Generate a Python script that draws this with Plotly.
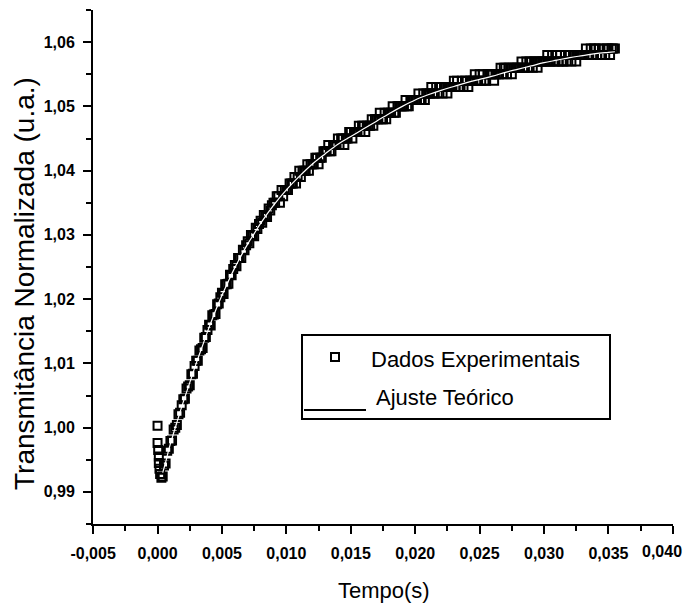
import plotly.graph_objects as go

# ---------------- data ----------------
# experimental points: time (s)
tempo_exp = [
    0.0, 0.0, 0.00005, 0.0001, 0.0001, 0.00015, 0.0002, 0.0003, 0.0004,
    0.0005, 0.000625, 0.00075, 0.000875,
    0.0010, 0.001125, 0.00125, 0.001375, 0.0015, 0.001625, 0.00175, 0.001875,
    0.0020, 0.002125, 0.00225, 0.002375, 0.0025, 0.002625, 0.00275, 0.002875,
    0.0030, 0.003125, 0.00325, 0.003375, 0.0035, 0.003625, 0.00375, 0.003875,
    0.0040, 0.004125, 0.00425, 0.004375, 0.0045, 0.004625, 0.00475, 0.004875,
    0.0050, 0.005125, 0.00525, 0.005375, 0.0055, 0.005625, 0.00575, 0.005875,
    0.0060, 0.006125, 0.00625, 0.006375, 0.0065, 0.006625, 0.00675, 0.006875,
    0.0070, 0.007125, 0.00725, 0.007375, 0.0075, 0.007625, 0.00775, 0.007875,
    0.0080, 0.008125, 0.00825, 0.008375, 0.0085, 0.008625, 0.00875, 0.008875,
    0.0090, 0.009125, 0.00925, 0.009375, 0.0095, 0.009625, 0.00975, 0.009875,
    0.0100, 0.010125, 0.01025, 0.010375, 0.0105, 0.010625, 0.01075, 0.010875,
    0.0110, 0.011125, 0.01125, 0.011375, 0.0115, 0.011625, 0.01175, 0.011875,
    0.0120, 0.012125, 0.01225, 0.012375, 0.0125, 0.012625, 0.01275, 0.012875,
    0.0130, 0.013125, 0.01325, 0.013375, 0.0135, 0.013625, 0.01375, 0.013875,
    0.0140, 0.014125, 0.01425, 0.014375, 0.0145, 0.014625, 0.01475, 0.014875,
    0.0150, 0.015125, 0.01525, 0.015375, 0.0155, 0.015625, 0.01575, 0.015875,
    0.0160, 0.016125, 0.01625, 0.016375, 0.0165, 0.016625, 0.01675, 0.016875,
    0.0170, 0.017125, 0.01725, 0.017375, 0.0175, 0.017625, 0.01775, 0.017875,
    0.0180, 0.018125, 0.01825, 0.018375, 0.0185, 0.018625, 0.01875, 0.018875,
    0.0190, 0.019125, 0.01925, 0.019375, 0.0195, 0.019625, 0.01975, 0.019875,
    0.0200, 0.020125, 0.02025, 0.020375, 0.0205, 0.020625, 0.02075, 0.020875,
    0.0210, 0.021125, 0.02125, 0.021375, 0.0215, 0.021625, 0.02175, 0.021875,
    0.0220, 0.022125, 0.02225, 0.022375, 0.0225, 0.022625, 0.02275, 0.022875,
    0.0230, 0.023125, 0.02325, 0.023375, 0.0235, 0.023625, 0.02375, 0.023875,
    0.0240, 0.024125, 0.02425, 0.024375, 0.0245, 0.024625, 0.02475, 0.024875,
    0.0250, 0.025125, 0.02525, 0.025375, 0.0255, 0.025625, 0.02575, 0.025875,
    0.0260, 0.026125, 0.02625, 0.026375, 0.0265, 0.026625, 0.02675, 0.026875,
    0.0270, 0.027125, 0.02725, 0.027375, 0.0275, 0.027625, 0.02775, 0.027875,
    0.0280, 0.028125, 0.02825, 0.028375, 0.0285, 0.028625, 0.02875, 0.028875,
    0.0290, 0.029125, 0.02925, 0.029375, 0.0295, 0.029625, 0.02975, 0.029875,
    0.0300, 0.030125, 0.03025, 0.030375, 0.0305, 0.030625, 0.03075, 0.030875,
    0.0310, 0.031125, 0.03125, 0.031375, 0.0315, 0.031625, 0.03175, 0.031875,
    0.0320, 0.032125, 0.03225, 0.032375, 0.0325, 0.032625, 0.03275, 0.032875,
    0.0330, 0.033125, 0.03325, 0.033375, 0.0335, 0.033625, 0.03375, 0.033875,
    0.0340, 0.034125, 0.03425, 0.034375, 0.0345, 0.034625, 0.03475, 0.034875,
    0.0350, 0.035125, 0.03525, 0.035375, 0.0355,
]
# experimental points: normalised transmittance (u.a.)
transm_exp = [
    1.0003, 0.9976, 0.9965, 0.9955, 0.9945, 0.9936, 0.9928, 0.9922, 0.9924,
    0.9941, 0.9944, 0.9964, 0.9967,
    0.9979, 0.9980, 0.9997, 1.0000, 1.0004, 1.0021, 1.0023, 1.0035,
    1.0044, 1.0045, 1.0061, 1.0064, 1.0066, 1.0083, 1.0084, 1.0096,
    1.0104, 1.0104, 1.0120, 1.0122, 1.0124, 1.0140, 1.0141, 1.0152,
    1.0160, 1.0159, 1.0175, 1.0176, 1.0177, 1.0192, 1.0193, 1.0203,
    1.0210, 1.0208, 1.0223, 1.0223, 1.0224, 1.0238, 1.0237, 1.0247,
    1.0253, 1.0251, 1.0264, 1.0264, 1.0264, 1.0277, 1.0276, 1.0284,
    1.0290, 1.0287, 1.0300, 1.0299, 1.0298, 1.0311, 1.0309, 1.0317,
    1.0322, 1.0319, 1.0331, 1.0330, 1.0328, 1.0341, 1.0338, 1.0346,
    1.035, 1.035, 1.036, 1.036, 1.035, 1.037, 1.036, 1.037,
    1.037, 1.037, 1.038, 1.038, 1.038, 1.039, 1.038, 1.039,
    1.040, 1.039, 1.040, 1.040, 1.040, 1.041, 1.040, 1.041,
    1.041, 1.041, 1.042, 1.042, 1.041, 1.042, 1.042, 1.043,
    1.043, 1.043, 1.044, 1.043, 1.043, 1.044, 1.044, 1.044,
    1.045, 1.044, 1.045, 1.045, 1.044, 1.045, 1.045, 1.046,
    1.046, 1.045, 1.046, 1.046, 1.046, 1.047, 1.046, 1.047,
    1.047, 1.046, 1.047, 1.047, 1.047, 1.048, 1.047, 1.048,
    1.048, 1.048, 1.049, 1.048, 1.048, 1.049, 1.048, 1.049,
    1.049, 1.049, 1.050, 1.049, 1.049, 1.050, 1.050, 1.050,
    1.050, 1.050, 1.051, 1.050, 1.050, 1.051, 1.051, 1.051,
    1.051, 1.051, 1.052, 1.051, 1.051, 1.052, 1.051, 1.052,
    1.052, 1.052, 1.053, 1.052, 1.052, 1.053, 1.052, 1.053,
    1.053, 1.052, 1.053, 1.053, 1.052, 1.053, 1.053, 1.053,
    1.054, 1.053, 1.054, 1.053, 1.053, 1.054, 1.053, 1.054,
    1.054, 1.053, 1.054, 1.054, 1.054, 1.055, 1.054, 1.054,
    1.055, 1.054, 1.055, 1.054, 1.054, 1.055, 1.055, 1.055,
    1.055, 1.054, 1.055, 1.055, 1.055, 1.056, 1.055, 1.056,
    1.056, 1.055, 1.056, 1.056, 1.055, 1.056, 1.056, 1.056,
    1.056, 1.056, 1.057, 1.056, 1.056, 1.057, 1.056, 1.057,
    1.057, 1.056, 1.057, 1.057, 1.056, 1.057, 1.057, 1.057,
    1.057, 1.057, 1.058, 1.057, 1.057, 1.058, 1.057, 1.057,
    1.058, 1.057, 1.058, 1.057, 1.057, 1.058, 1.057, 1.058,
    1.058, 1.057, 1.058, 1.058, 1.057, 1.058, 1.058, 1.058,
    1.058, 1.058, 1.059, 1.058, 1.058, 1.059, 1.058, 1.059,
    1.059, 1.058, 1.059, 1.058, 1.058, 1.059, 1.058, 1.059,
    1.059, 1.058, 1.059, 1.059, 1.059,
]

# theoretical fit curve
tempo_ajuste = [
    0.0004, 0.0006, 0.0008, 0.0010, 0.0015, 0.0020, 0.0025, 0.0030, 0.0035,
    0.0040, 0.0045, 0.0050, 0.0055, 0.0060, 0.0065, 0.0070, 0.0075, 0.0080,
    0.0090, 0.0100, 0.0110, 0.0120, 0.0130, 0.0140, 0.0150, 0.0160, 0.0170,
    0.0180, 0.0190, 0.0200, 0.0210, 0.0220, 0.0230, 0.0240, 0.0250, 0.0260,
    0.0270, 0.0280, 0.0290, 0.0300, 0.0310, 0.0320, 0.0330, 0.0340, 0.0350,
    0.0355,
]
transm_ajuste = [
    0.9930, 0.9944, 0.9960, 0.9975, 1.0008, 1.0040, 1.0070, 1.0100, 1.0128,
    1.0156, 1.0182, 1.0206, 1.0228, 1.0249, 1.0268, 1.0286, 1.0302, 1.0318,
    1.0346, 1.0370, 1.0391, 1.0410, 1.0426, 1.0441, 1.0453, 1.0465, 1.0477,
    1.0489, 1.0500, 1.0510, 1.0518, 1.0525, 1.0531, 1.0537, 1.0542, 1.0547,
    1.0553, 1.0558, 1.0563, 1.0568, 1.0572, 1.0576, 1.0579, 1.0582, 1.0584,
    1.0585,
]

# tick labels (comma decimal separator)
x_ticks = [-0.005, 0.000, 0.005, 0.010, 0.015, 0.020, 0.025, 0.030, 0.035, 0.040]
x_tick_labels = ["-0,005", "0,000", "0,005", "0,010", "0,015", "0,020",
                 "0,025", "0,030", "0,035", "0,040"]
y_ticks = [0.99, 1.00, 1.01, 1.02, 1.03, 1.04, 1.05, 1.06]
y_tick_labels = ["0,99", "1,00", "1,01", "1,02", "1,03", "1,04", "1,05", "1,06"]

serie_exp = "Dados Experimentais"
serie_ajuste = "Ajuste Teórico"
titulo_x = "Tempo(s)"
titulo_y = "Transmitância Normalizada (u.a.)"

# ---------------- figure ----------------
FONT = "Liberation Sans, Arial, sans-serif"
TICKFONT = dict(family=FONT, size=16, color="black", weight="bold")

fig = go.Figure()
fig.add_trace(go.Scatter(
    x=tempo_exp, y=transm_exp, mode="markers", name=serie_exp,
    marker=dict(symbol="square-open", size=8, color="black",
                line=dict(width=2, color="black")),
    showlegend=False,
))
fig.add_trace(go.Scatter(
    x=tempo_ajuste, y=transm_ajuste, mode="lines", name=serie_ajuste,
    line=dict(color="white", width=1.2, shape="spline"),
    showlegend=False,
))

# the page body adds an 8 px margin, so the figure is laid out 8 px shifted
OFF = 8
W, H = 693, 606 - OFF
PL, PR, PT, PB = 93, 673, 10, 524          # plot area in screen pixels
ML, MT = PL - OFF, PT - OFF
PW, PH = PR - PL, PB - PT
MR, MB = W - ML - PW, H - MT - PH


def px(xs):
    return (xs - PL) / PW


def py(ys):
    return (PB - ys) / PH


axis_common = dict(
    showgrid=False, zeroline=False, showline=True, linecolor="black",
    linewidth=2, ticks="outside", tickcolor="black", tickwidth=2, ticklen=8,
    tickfont=TICKFONT, mirror=False,
)

# the last x label sits at the window edge: draw it as an annotation nudged left
x_text_axis = x_tick_labels[:-1] + [""]

fig.update_layout(
    width=W, height=H,
    margin=dict(l=ML, r=MR, t=MT, b=MB, pad=0),
    paper_bgcolor="white", plot_bgcolor="white",
    xaxis=dict(range=[-0.00501, 0.04001], tickmode="array", tickvals=x_ticks,
               ticktext=x_text_axis,
               minor=dict(dtick=0.0025, tick0=0, ticks="outside", ticklen=5,
                          tickwidth=2, tickcolor="black", showgrid=False),
               ticklabelstandoff=6,
               **axis_common),
    yaxis=dict(range=[0.985, 1.065], tickmode="array", tickvals=y_ticks,
               ticktext=y_tick_labels,
               minor=dict(dtick=0.005, tick0=0.985, ticks="outside", ticklen=5,
                          tickwidth=2, tickcolor="black", showgrid=False),
               ticklabelstandoff=5,
               **axis_common),
    showlegend=False,
)

annotations = [
    dict(text=x_tick_labels[-1], x=px(684), y=py(551), xref="paper",
         yref="paper", showarrow=False, xanchor="right", yanchor="middle",
         font=TICKFONT),
    dict(text=titulo_y, x=px(24), y=py(284), xref="paper", yref="paper",
         textangle=-90, showarrow=False, xanchor="center", yanchor="middle",
         font=dict(family=FONT, size=28, color="black")),
    dict(text=titulo_x, x=px(384), y=py(590), xref="paper", yref="paper",
         showarrow=False, xanchor="center", yanchor="middle",
         font=dict(family=FONT, size=22, color="black")),
    dict(text=serie_exp, x=px(369), y=py(359), xref="paper", yref="paper",
         showarrow=False, xanchor="left", yanchor="middle",
         font=dict(family=FONT, size=22, color="black")),
    dict(text=serie_ajuste, x=px(374), y=py(397), xref="paper", yref="paper",
         showarrow=False, xanchor="left", yanchor="middle",
         font=dict(family=FONT, size=22, color="black")),
]
fig.update_layout(annotations=annotations)

shapes = [
    # legend frame
    dict(type="rect", xref="paper", yref="paper", x0=px(302), x1=px(610),
         y0=py(419), y1=py(335), line=dict(color="black", width=2),
         fillcolor="rgba(0,0,0,0)"),
    # legend symbol: open square
    dict(type="rect", xref="paper", yref="paper", x0=px(331), x1=px(339),
         y0=py(361), y1=py(353), line=dict(color="black", width=2),
         fillcolor="white"),
    # legend symbol: fit line
    dict(type="line", xref="paper", yref="paper", x0=px(304), x1=px(366),
         y0=py(410), y1=py(410), line=dict(color="black", width=2)),
]
fig.update_layout(shapes=shapes)

fig.write_html("out.html")
